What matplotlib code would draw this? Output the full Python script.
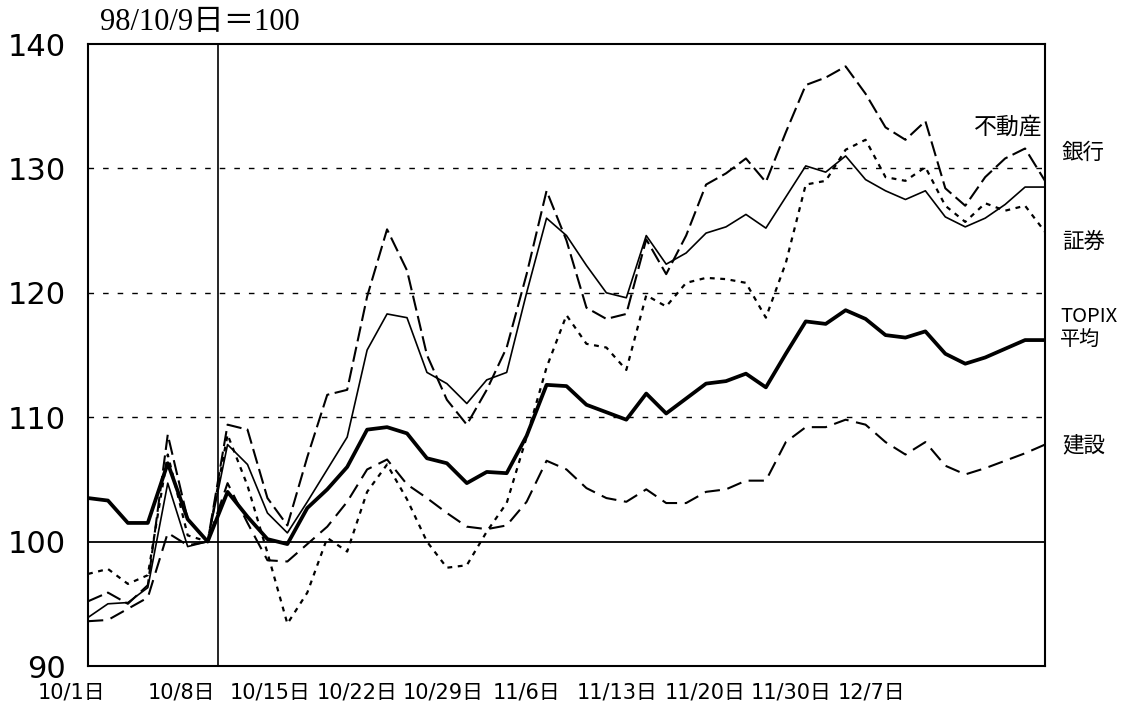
import matplotlib
matplotlib.use("Agg")
import matplotlib.pyplot as plt
import matplotlib.transforms as mtransforms

plt.rcParams['font.family'] = ['Noto Sans CJK JP', 'DejaVu Sans']
plt.rcParams['lines.scale_dashes'] = False

# ---- data (index 0 = 10/1, index 6 = 10/9 base = 100) ----
topix = [103.5, 103.3, 101.5, 101.5, 106.3, 101.8, 100.0, 104.0, 102.0, 100.2,
         99.8, 102.7, 104.2, 106.0, 109.0, 109.2, 108.7, 106.7, 106.3, 104.7,
         105.6, 105.5, 108.5, 112.6, 112.5, 111.0, 110.4, 109.8, 111.9, 110.3,
         111.5, 112.7, 112.9, 113.5, 112.4, 115.1, 117.7, 117.5, 118.6, 117.9,
         116.6, 116.4, 116.9, 115.1, 114.3, 114.8, 115.5, 116.2, 116.2]
bank = [93.9, 95.0, 95.1, 96.3, 104.7, 99.6, 100.0, 107.8, 106.2, 102.3,
        100.7, 103.2, 105.8, 108.4, 115.4, 118.3, 118.0, 113.6, 112.7, 111.1,
        113.0, 113.6, 120.0, 126.0, 124.6, 122.2, 120.0, 119.6, 124.6, 122.3,
        123.2, 124.8, 125.3, 126.3, 125.2, 127.7, 130.2, 129.7, 131.0, 129.1,
        128.2, 127.5, 128.2, 126.1, 125.3, 126.0, 127.1, 128.5, 128.5]
securities = [97.4, 97.8, 96.6, 97.3, 107.0, 100.5, 100.0, 108.6, 104.5, 99.1,
              93.4, 95.9, 100.3, 99.2, 104.0, 106.2, 103.4, 100.0, 97.9, 98.1,
              100.8, 103.1, 108.4, 114.0, 118.2, 115.9, 115.6, 113.8, 119.8, 118.9,
              120.8, 121.2, 121.1, 120.8, 118.0, 122.4, 128.7, 129.0, 131.5, 132.3,
              129.3, 129.0, 130.1, 127.0, 125.7, 127.2, 126.6, 127.0, 124.9]
realestate = [95.2, 95.9, 95.0, 96.5, 108.6, 101.8, 100.0, 109.4, 109.0, 103.5,
              101.3, 106.8, 111.8, 112.2, 119.7, 125.1, 121.8, 115.0, 111.4, 109.4,
              112.2, 115.6, 121.5, 128.2, 124.2, 118.8, 117.9, 118.3, 124.3, 121.5,
              124.6, 128.7, 129.6, 130.8, 128.9, 132.9, 136.7, 137.3, 138.2, 136.0,
              133.3, 132.3, 133.8, 128.4, 127.0, 129.3, 130.8, 131.6, 129.0]
construction = [93.6, 93.7, 94.6, 95.5, 100.7, 99.7, 100.0, 104.7, 101.5, 98.5,
                98.4, 99.8, 101.2, 103.2, 105.8, 106.6, 104.6, 103.5, 102.3, 101.2,
                101.0, 101.3, 103.2, 106.5, 105.8, 104.3, 103.5, 103.2, 104.2, 103.1,
                103.1, 104.0, 104.2, 104.9, 104.9, 108.0, 109.2, 109.2, 109.8, 109.4,
                108.0, 107.0, 108.0, 106.1, 105.4, 105.9, 106.5, 107.1, 107.8]

x_labels = ["10/1日", "10/8日", "10/15日", "10/22日", "10/29日",
            "11/6日", "11/13日", "11/20日", "11/30日", "12/7日"]
y_ticks = [90, 100, 110, 120, 130, 140]
series_labels = ["不動産", "銀行", "証券", "TOPIX\n平均", "建設"]
base_label = "98/10/9日＝100"

# ---- layout ----
W, H = 1128, 713
fig = plt.figure(figsize=(W / 100, H / 100), dpi=100)
ax_l, ax_r, ax_t, ax_b = 88, 1045, 44, 666
ax = fig.add_axes([ax_l / W, 1 - ax_b / H, (ax_r - ax_l) / W, (ax_b - ax_t) / H])

x = list(range(len(topix)))
ax.set_xlim(0, len(topix) - 1)
ax.set_ylim(90, 140)

# reference lines
for v in (110, 120, 130):
    ax.axhline(v, color='black', lw=1.0, dashes=(4, 6.5), zorder=1)
ax.axhline(100, color='black', lw=1.3, zorder=1)
ax.axvline(6.5, color='black', lw=1.2, zorder=1)

ax.plot(x, construction, color='black', lw=1.5, dashes=(11, 5.5), zorder=2)
ax.plot(x, realestate, color='black', lw=1.5, dashes=(11, 4), zorder=2)
ax.plot(x, securities, color='black', lw=1.6, dashes=(3.5, 4), zorder=2)
ax.plot(x, bank, color='black', lw=1.2, zorder=3)
ax.plot(x, topix, color='black', lw=2.7, zorder=4, solid_joinstyle='round')

for s in ax.spines.values():
    s.set_linewidth(1.5)
ax.set_xticks([])
ax.set_yticks(y_ticks)
ax.set_yticklabels([str(v) for v in y_ticks], family='DejaVu Sans', fontsize=22)
ax.tick_params(axis='y', length=0, pad=16)

# x labels (evenly spaced text below the frame, as in the original)
label_px = [71, 181, 270, 357, 443, 527, 617, 705, 791, 871]
trans = mtransforms.blended_transform_factory(ax.transData, fig.transFigure)
px_per_day = (ax_r - ax_l) / (len(topix) - 1)
for lab, px in zip(x_labels, label_px):
    ax.text((px - ax_l) / px_per_day, 1 - 692 / H, lab, transform=trans,
            ha='center', va='center', fontsize=15, clip_on=False,
            family=['DejaVu Sans', 'Noto Sans CJK JP'])

# base label
fig.text(100 / W, 1 - 22 / H, base_label, ha='left', va='center', fontsize=22,
         family=['Liberation Serif', 'Noto Sans CJK JP'])

# series labels
fig.text(1008 / W, 1 - 127 / H, series_labels[0], ha='center', va='center', fontsize=16.5)
fig.text(1062 / W, 1 - 153 / H, series_labels[1], ha='left', va='center', fontsize=15.5)
fig.text(1062 / W, 1 - 242 / H, series_labels[2], ha='left', va='center', fontsize=15.5)
fig.text(1060 / W, 1 - 328 / H, series_labels[3], ha='left', va='center', fontsize=14.5,
         linespacing=1.1)
fig.text(1062 / W, 1 - 445 / H, series_labels[4], ha='left', va='center', fontsize=15.5)

fig.savefig("out.png", dpi=100)
